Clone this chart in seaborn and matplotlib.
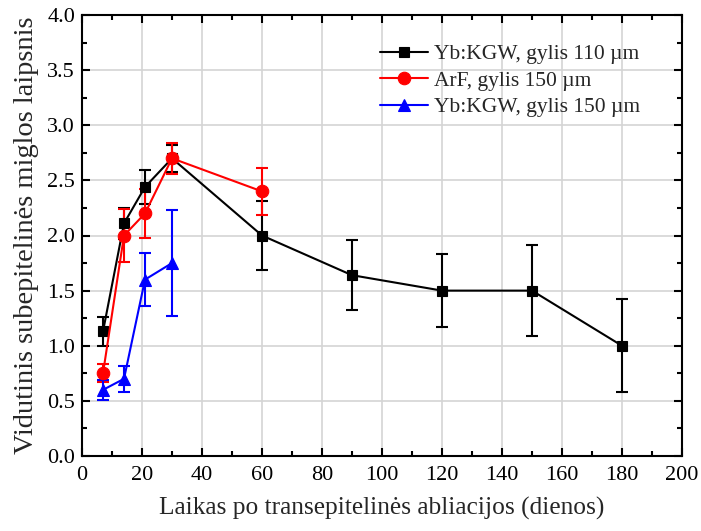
import numpy as np
import pandas as pd
import matplotlib
matplotlib.use("Agg")
import matplotlib.pyplot as plt
import seaborn as sns
from matplotlib.ticker import MultipleLocator, FormatStrFormatter

# Days after transepithelial ablation
days_yb110 = [7, 14, 21, 30, 60, 90, 120, 150, 180]
haze_yb110 = [1.13, 2.11, 2.44, 2.70, 2.00, 1.64, 1.50, 1.50, 1.00]
err_yb110 = [0.13, 0.14, 0.15, 0.12, 0.31, 0.32, 0.33, 0.41, 0.42]

days_arf150 = [7, 14, 21, 30, 60]
haze_arf150 = [0.75, 2.00, 2.20, 2.70, 2.40]
err_arf150 = [0.08, 0.24, 0.22, 0.14, 0.21]

days_yb150 = [7, 14, 21, 30]
haze_yb150 = [0.60, 0.70, 1.60, 1.75]
err_yb150 = [0.09, 0.12, 0.24, 0.48]

labels = ["Yb:KGW, gylis 110 µm", "ArF, gylis 150 µm", "Yb:KGW, gylis 150 µm"]
colors = ["black", "red", "blue"]
markers = ["s", "o", "^"]
msizes = [7.8, 9.0, 8.5]

frames = []
for lab, d, h, e in zip(labels,
                        [days_yb110, days_arf150, days_yb150],
                        [haze_yb110, haze_arf150, haze_yb150],
                        [err_yb110, err_arf150, err_yb150]):
    frames.append(pd.DataFrame({"diena": d, "migla": h, "paklaida": e, "serija": lab}))
df = pd.concat(frames, ignore_index=True)

sns.set_theme(style="white")
plt.rcParams["font.family"] = ["Liberation Serif", "DejaVu Serif"]

fig = plt.figure(figsize=(7.01, 5.31), dpi=100)
ax = fig.add_axes([82 / 701, 1 - 456 / 531, 600 / 701, 441 / 531])

for lab, col, mk, ms in zip(labels, colors, markers, msizes):
    sub = df[df["serija"] == lab]
    ax.errorbar(sub["diena"], sub["migla"], yerr=sub["paklaida"], fmt="none",
                ecolor=col, elinewidth=1.5, capsize=4, capthick=1.5, zorder=3)
    sns.lineplot(data=sub, x="diena", y="migla", ax=ax, color=col, marker=mk,
                 markersize=ms, markeredgecolor=col, markeredgewidth=0.8,
                 linewidth=1.5, label=lab, sort=False, errorbar=None, zorder=4)

ax.set_xlim(0, 200)
ax.set_ylim(0, 4.0)
ax.xaxis.set_major_locator(MultipleLocator(20))
ax.xaxis.set_minor_locator(MultipleLocator(10))
ax.yaxis.set_major_locator(MultipleLocator(0.5))
ax.yaxis.set_minor_locator(MultipleLocator(0.25))
ax.yaxis.set_major_formatter(FormatStrFormatter("%.1f"))

ax.grid(True, which="major", color="#d4d4d4", linewidth=1.2)
ax.set_axisbelow(True)
for s in ax.spines.values():
    s.set_color("black")
    s.set_linewidth(1.5)

ax.tick_params(which="both", direction="in", top=True, right=True,
               bottom=True, left=True, colors="black", labelsize=16)
ax.tick_params(which="major", length=6, width=1.5)
ax.tick_params(which="minor", length=3.5, width=1.5)
ax.tick_params(axis="x", pad=7)
ax.tick_params(axis="y", pad=5)

ax.set_xlabel("Laikas po transepitelinės abliacijos (dienos)", fontsize=18.3, labelpad=9)
ax.set_ylabel("Vidutinis subepitelinės miglos laipsnis", fontsize=20.5, labelpad=6)

leg = ax.legend(loc="upper right", bbox_to_anchor=(0.963, 0.978), frameon=False,
                fontsize=15.5, handlelength=2.2, handletextpad=0.3, labelspacing=0.3)

fig.savefig("out.png", dpi=100)
